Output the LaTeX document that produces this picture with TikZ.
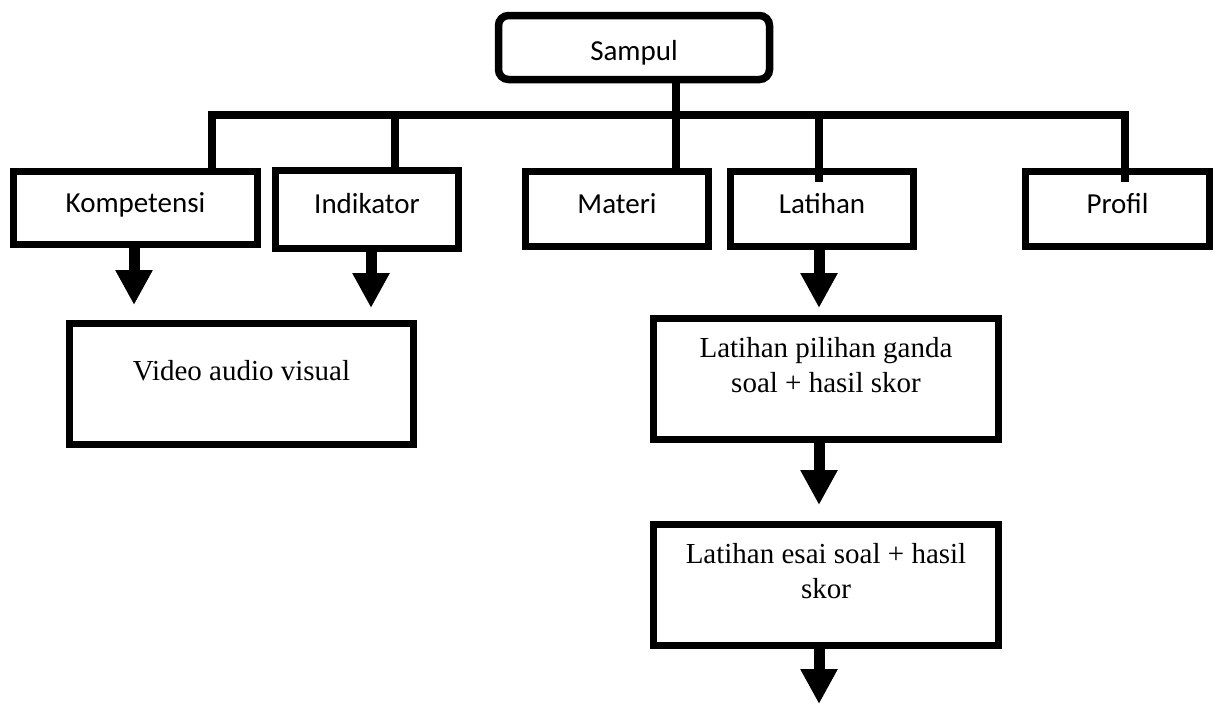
\documentclass[tikz,border=0pt]{standalone}
\usepackage{fontspec}
\setmainfont{Liberation Serif}
\newfontfamily\calibri{Carlito}
\usepackage{tikz}
\usetikzlibrary{arrows.meta, positioning, calc}
\tikzstyle{menubox} = [draw, line width=7.5pt, inner sep=0pt, outer sep=0pt, minimum width=183pt, minimum height=75pt, font=\calibri\fontsize{29}{35}\selectfont, text height=19pt, text depth=11pt]
\tikzstyle{pagebox} = [draw, line width=7.5pt, inner sep=0pt, outer sep=0pt, minimum width=345pt, minimum height=121pt, align=center, font=\fontsize{29}{34.5}\selectfont, text height=26pt, text depth=0pt]
\tikzstyle{link} = [line width=7.5pt]
\tikzstyle{bigarrow} = [line width=11pt, -{Triangle[width=35pt,length=35pt]}]

\begin{document}
\begin{tikzpicture}[x=1pt, y=-1pt]
\useasboundingbox (0,0) rectangle (1216,704);

% Cover
\node[menubox, rounded corners=10pt, minimum width=271pt, minimum height=64pt, text height=25pt, text depth=0pt] (sampul) at (634,47.5) {Sampul};

% Menu row
\node[menubox, minimum width=244pt, minimum height=73pt] (komp) at (135.5,208) {Kompetensi};
\node[menubox, minimum height=78pt] (indi) at (367,209.5) {Indikator};
\node[menubox] (materi) at (617,209) {Materi};
\node[menubox] (lat) at (822,209) {Latihan};
\node[menubox, minimum width=184pt] (profil) at (1117.5,209) {Profil};

% Pages
\node[pagebox, minimum width=344pt, text height=20pt, text depth=28pt] (video) at (241.5,384) {Video audio visual};
\node[pagebox] (pg) at (826,379) {Latihan pilihan ganda\\soal + hasil skor};
\node[pagebox] (esai) at (826,585) {Latihan esai soal + hasil\\skor};
\coordinate (end) at (819,704);

% Bus
\coordinate (bus) at (676,115);
\draw[link] ([xshift=42pt]sampul.south) -- ([xshift=59pt]materi.north);
\draw[link] ([xshift=76.5pt]komp.north) |- (bus) -| ([xshift=7.5pt,yshift=-10pt]profil.north);
\draw[link] ([xshift=28pt]indi.north) -- ([xshift=28pt]indi.north |- bus);
\draw[link] ([xshift=-3pt,yshift=-10pt]lat.north) -- ([xshift=-3pt]lat.north |- bus);

% Arrows
\draw[bigarrow, shorten >=18.5pt] ([xshift=-1.5pt]komp.south) -- ([xshift=-1.5pt]komp.south |- video.north);
\draw[bigarrow, shorten >=15.5pt] ([xshift=4pt]indi.south) -- ([xshift=4pt]indi.south |- video.north);
\draw[bigarrow, shorten >=10.5pt] ([xshift=-3pt]lat.south) -- ([xshift=-3pt]lat.south |- pg.north);
\draw[bigarrow, shorten >=19.5pt] ([xshift=-7pt]pg.south) -- ([xshift=-7pt]pg.south |- esai.north);
\draw[bigarrow] ([xshift=-7pt]esai.south) -- (end);
\end{tikzpicture}
\end{document}
